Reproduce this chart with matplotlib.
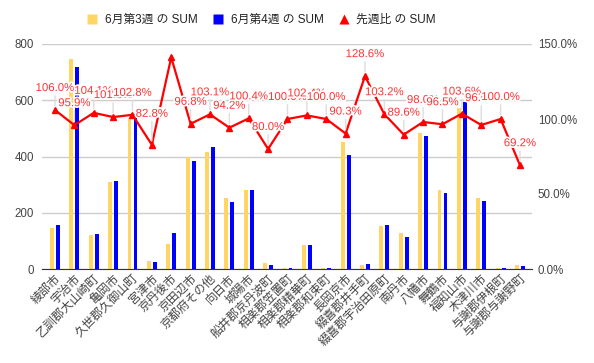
import matplotlib
matplotlib.use("Agg")
import matplotlib.pyplot as plt
import matplotlib.patheffects as pe
from matplotlib.lines import Line2D
import numpy as np

plt.rcParams["font.family"] = ["Liberation Sans", "Noto Sans CJK JP", "DejaVu Sans"]

# --- data ---
cities = ["綾部市", "宇治市", "乙訓郡大山崎町", "亀岡市", "久世郡久御山町", "宮津市",
          "京丹後市", "京田辺市", "京都府その他", "向日市", "城陽市", "船井郡京丹波町",
          "相楽郡笠置町", "相楽郡精華町", "相楽郡和束町", "長岡京市", "綴喜郡井手町",
          "綴喜郡宇治田原町", "南丹市", "八幡市", "舞鶴市", "福知山市", "木津川市",
          "与謝郡伊根町", "与謝郡与謝野町"]
week3 = [147, 747, 121, 309, 536, 29, 90, 397, 417, 253, 281, 20, 3, 84, 3,
         451, 14, 153, 129, 482, 281, 573, 253, 3, 13]
week4 = [156, 718, 126, 313, 550, 24, 128, 383, 434, 239, 282, 16, 3, 86, 3,
         407, 18, 157, 115, 472, 271, 594, 242, 3, 9]
ratio = [106.0, 95.9, 104.1, 101.3, 102.8, 82.8, 141.1, 96.8, 103.1, 94.2, 100.4, 80.0,
         100.0, 102.4, 100.0, 90.3, 128.6, 103.2, 89.6, 98.0, 96.5, 103.6, 96.0, 100.0, 69.2]

# labels the reference does not show, and ones pushed a little higher
hidden_labels = {6}
extra_lift = {5: 9, 22: 5}

YELLOW = "#FFD666"
BLUE = "#0000FF"
RED = "#FF0000"

x = np.arange(len(cities))

fig = plt.figure(figsize=(5.94, 3.63), dpi=100)
fig.subplots_adjust(left=42 / 594, right=532 / 594, top=1 - 44 / 363, bottom=1 - 269 / 363)
ax = fig.add_subplot(111)

ax.bar(x - 0.155, week3, width=0.2, color=YELLOW, zorder=2)
ax.bar(x + 0.155, week4, width=0.2, color=BLUE, zorder=2)

ax.set_xlim(-0.67, 24.62)
ax.set_ylim(0, 800)
ax.set_yticks(range(0, 801, 200))
ax.grid(axis="y", color="#cccccc", linewidth=1)
ax.set_axisbelow(True)
for s in ["top", "right", "left"]:
    ax.spines[s].set_visible(False)
ax.spines["bottom"].set_color("#333333")
ax.spines["bottom"].set_zorder(3)
ax.tick_params(axis="y", length=0, pad=5.8, labelsize=8.3, labelcolor="#444444")
ax.set_xticks(x)
ax.set_xticklabels(cities, rotation=45, ha="right", va="top", rotation_mode="anchor",
                   fontsize=8.6, color="#444444")
ax.tick_params(axis="x", length=0, pad=2.5)

# --- ratio line on the right axis ---
ax2 = ax.twinx()
ax2.set_ylim(0, 1.5)
ax2.set_yticks([0, 0.5, 1.0, 1.5])
ax2.set_yticklabels(["0.0%", "50.0%", "100.0%", "150.0%"])
ax2.tick_params(axis="y", length=0, pad=4.3, labelsize=8.3, labelcolor="#444444")
for s in ax2.spines.values():
    s.set_visible(False)

r = np.array(ratio) / 100
ax2.plot(x, r, color=RED, linewidth=1.6, marker="^", markersize=5, zorder=4)

for i, (xi, ri) in enumerate(zip(x, r)):
    if i in hidden_labels:
        continue
    t = ax2.annotate(f"{ratio[i]:.1f}%", xy=(xi, ri),
                     xytext=(0, 22 + extra_lift.get(i, 0)), textcoords="offset pixels",
                     ha="center", va="center", fontsize=8.2, color="#FF3333",
                     arrowprops=dict(arrowstyle="-", color="#dddddd", lw=1,
                                     shrinkA=0, shrinkB=3),
                     zorder=5)
    t.set_path_effects([pe.withStroke(linewidth=2.5, foreground="white")])

# --- legend ---
handles = [
    Line2D([], [], marker="s", linestyle="none", markersize=7.5,
           markerfacecolor=YELLOW, markeredgecolor="none"),
    Line2D([], [], marker="s", linestyle="none", markersize=7.5,
           markerfacecolor=BLUE, markeredgecolor="none"),
    Line2D([], [], marker="^", linestyle="none", markersize=7.5,
           markerfacecolor=RED, markeredgecolor="none"),
]
fig.legend(handles, ["6月第3週 の SUM", "6月第4週 の SUM", "先週比 の SUM"],
           loc="center", bbox_to_anchor=(261 / 594, 1 - 20 / 363), ncol=3,
           frameon=False, fontsize=8.5, handlelength=1, handletextpad=0.6,
           columnspacing=1.2, labelcolor="#222222")

fig.savefig("out.png", dpi=100)
